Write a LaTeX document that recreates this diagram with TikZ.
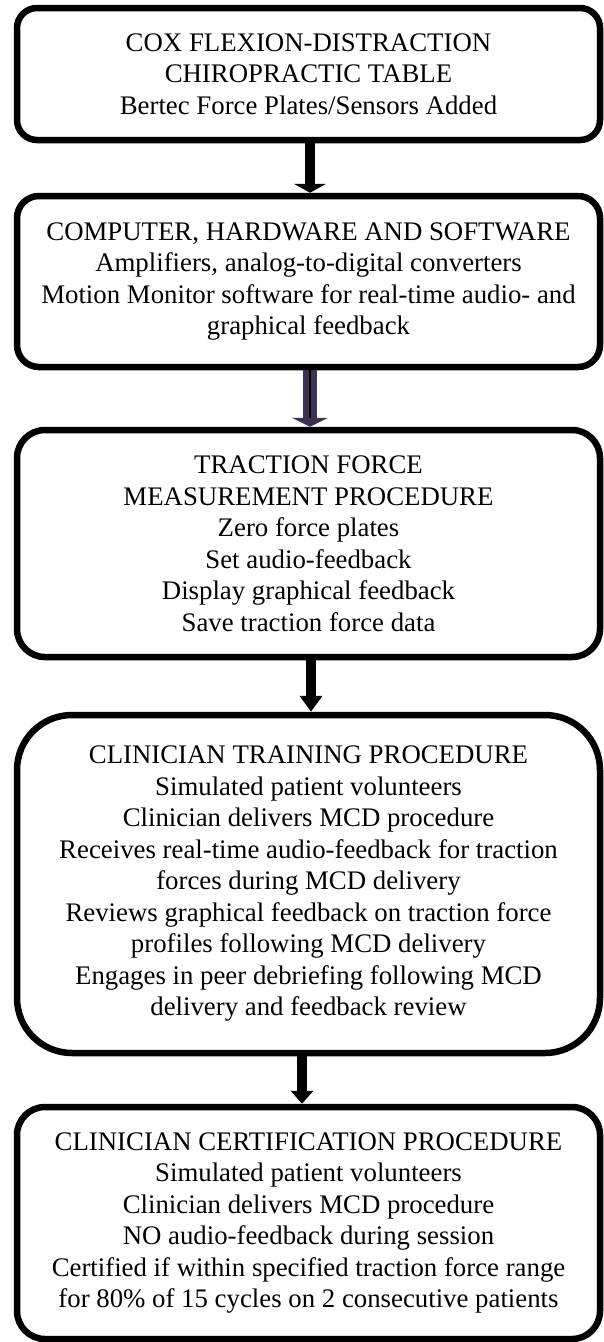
\documentclass[tikz,border=0pt]{standalone}
\usepackage{fontspec}
\setmainfont{Liberation Serif}
\usepackage{tikz}
\usetikzlibrary{arrows.meta}
\definecolor{flowpurple}{rgb}{0.25,0.19,0.32}

\begin{document}
\begin{tikzpicture}[x=1pt,y=1pt,
		stage/.style={draw,line width=6.5pt,align=center,inner sep=0pt,minimum width=583pt,font=\fontsize{26.8}{31.5}\selectfont},
		flow/.style={line width=10pt}]
		\useasboundingbox (0,0) rectangle (603,-1342);
		\node[stage,rounded corners=20pt,minimum height=132pt] (table) at (308.5,-74) {COX FLEXION-DISTRACTION\\CHIROPRACTIC TABLE\\Bertec Force Plates/Sensors Added};
		\node[stage,rounded corners=22pt,minimum height=171pt] (computer) at (308.5,-281.5) {COMPUTER, HARDWARE AND SOFTWARE\\Amplifiers, analog-to-digital converters\\Motion Monitor software for real-time audio- and\\graphical feedback};
		\node[stage,rounded corners=28pt,minimum height=227pt] (measure) at (308.5,-543.5) {TRACTION FORCE\\MEASUREMENT PROCEDURE\\Zero force plates\\Set audio-feedback\\Display graphical feedback\\Save traction force data};
		\node[stage,rounded corners=55pt,minimum height=338pt] (training) at (308.5,-884) {CLINICIAN TRAINING PROCEDURE\\Simulated patient volunteers\\Clinician delivers MCD procedure\\Receives real-time audio-feedback for traction\\forces during MCD delivery\\Reviews graphical feedback on traction force\\profiles following MCD delivery\\Engages in peer debriefing following MCD\\delivery and feedback review};
		\node[stage,rounded corners=28pt,minimum height=232pt] (certify) at (308.5,-1223) {CLINICIAN CERTIFICATION PROCEDURE\\Simulated patient volunteers\\Clinician delivers MCD procedure\\NO audio-feedback during session\\Certified if within specified traction force range\\for 80\% of 15 cycles on 2 consecutive patients};
		% arrows between the stages
		\draw[flow,-{Triangle[width=32pt,length=9pt]}] ([xshift=1.5pt]table.south) -- ([xshift=1.5pt]computer.north);
		\draw[flow,line width=14pt,flowpurple,-{Triangle[width=36pt,length=9pt]}] ([xshift=1.5pt]computer.south) -- ([xshift=1.5pt]measure.north);
		\draw[line width=1.5pt] ([xshift=1.5pt]computer.south) -- ([xshift=1.5pt,yshift=9pt]measure.north);%center line
		\draw[flow,-{Triangle[width=22pt,length=16pt]}] ([xshift=2.5pt]measure.south) -- ([xshift=2.5pt]training.north);
		\draw[flow,-{Triangle[width=22pt,length=13pt]}] ([xshift=-6.5pt]training.south) -- ([xshift=-6.5pt]certify.north);
	\end{tikzpicture}
\end{document}
